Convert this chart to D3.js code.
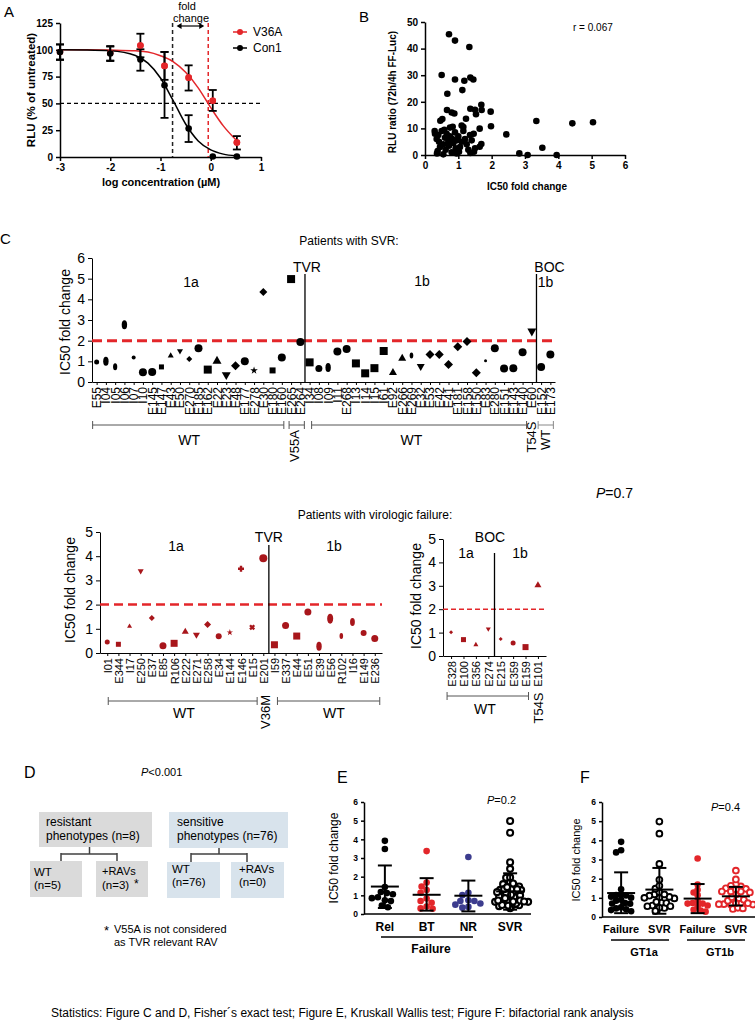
<!DOCTYPE html>
<html><head><meta charset="utf-8">
<script src="https://cdn.jsdelivr.net/npm/d3@7"></script>
<style>
body{margin:0;background:#fff;}
svg text{font-family:"Liberation Sans",Arial,Helvetica,sans-serif;}
</style></head><body>
<svg id="fig" width="755" height="1020"></svg>
<script>
// ---------------- DATA ----------------
// Panel A
const aDoseLog = [-3, -2, -1.4, -0.92, -0.44, 0.04, 0.52];
const aV36AMean = [98, 97, 104, 85, 74, 52.5, 13.5];
const aV36ALo = [91, 90, 93, 72, 62, 43, 7];
const aV36AHi = [105, 103, 115, 98, 85.5, 62.5, 19.5];
const aCon1Mean = [98, 96.5, 91, 67, 26.5, 0.5, 0.5];
const aCon1Lo = [90.5, 89.5, 80.5, 36.5, 14, 0.5, 0.5];
const aCon1Hi = [105, 103.5, 100.5, 98, 39, 0.5, 0.5];
const aCurveLog = [-3, -2.5, -2, -1.5, -1.25, -1, -0.75, -0.5, -0.25, 0, 0.25, 0.5];
const aV36ACurve = [100, 100, 99.7, 99, 98, 94.5, 89, 79, 64.5, 46, 29, 16];
const aCon1Curve = [100, 99.8, 99.1, 94.7, 87.6, 73.7, 52.8, 30.8, 15, 6.6, 2.7, 1.1];
const aIC50Con1 = -0.76, aIC50V36A = -0.05;
const aXTicks = [-3, -2, -1, 0, 1];
const aYTicks = [0, 25, 50, 75, 100, 125];

// Panel B
const bFold = [0.72,0.9,1.33,0.5,0.9,1.18,1.36,1.45,1.12,0.67,1.69,1.97,1.7,1.36,1.5,0.66,0.8,0.88,1.53,0.52,0.46,1.23,3.34,4.42,5.04,1.98,1.1,1.15,0.75,0.83,1.64,0.29,2.44,1.46,3.52,2.83,3.08,3.95,1.69,1.64,1.5,1.36,1.47,0.95,0.55,0.36,
  0.3,0.35,0.4,0.42,0.45,0.5,0.55,0.6,0.62,0.65,0.7,0.72,0.75,0.8,0.82,0.85,0.9,0.92,0.95,1.0,1.05,1.1,1.15,1.2,1.25,1.3,1.35,1.4,0.38,0.58,1.02];
const bRatio = [45.4,43,40.6,30.1,28.4,27.9,29.1,28.4,24.4,23,18.9,16.3,16.9,17.4,17,16.9,16,15.6,15.3,13.5,12.9,13.6,12.8,11.9,12.3,10.8,11.1,10.5,10.3,10.6,9.9,9,7.75,8,2.75,0.6,0,0,4.1,3.1,2.5,0.75,1.25,0.6,0.25,0.6,
  8,6,7.5,5,3,9,4,6.5,2,8,5,3.5,7,1,6,4.5,8.5,2.5,5.5,7,3,5,9,6,4,2,7.5,5.5,1.5,9.5,1.2];
const bXTicks = [0,1,2,3,4,5,6];
const bYTicks = [0,10,20,30,40,50];

// Panel C top (SVR)
const cTopLabels1a = ["E55","I04","I05","I06","I07","I10","E145","E147","E43","E50","E270","E185","E162","E22","E23","E48","E177","E278","E30","E180","E160","E265","E264"];
const cTopVals1a = [0.97,1.0,0.74,2.77,1.18,0.47,0.48,0.73,1.29,1.48,1.11,1.63,0.6,1.05,0.31,0.79,1.0,0.56,4.35,0.56,1.18,4.98,1.94];
const cTopLabels1b = ["I34","I08","I09","I11","E268","I13","I14","I15","I61","E92","E266","E269","E32","E53","E42","E41","E181","E158","E150","E83","E280","E151","E143","E140","E60"];
const cTopVals1b = [0.95,0.65,0.7,1.47,1.6,0.9,0.42,0.67,1.5,0.48,1.17,1.28,0.72,1.33,1.33,0.85,1.7,1.96,0.45,1.03,1.63,0.65,0.67,1.44,2.42];
const cTopLabelsBOC = ["E152","E173"];
const cTopValsBOC = [0.72,1.33];
const cTopYTicks = [0,1,2,3,4,5,6];
// marker shape + size (style only)
const cTopShape = ["c5","e9","e7","e9","c4","c8","c8","s5","t6","v6","d6","c8","s8","t9","v9","d9","c8","st6","d8","s6","c8","s8","c8",
  "s8","c7","e9","c8","c8","s8","s8","s8","s8","t8","t8","e6","v8","d9","d9","d9","d9","d9","d9","c3","c8","c8","c8","c8","v9",
  "c8","c8"];

// Panel C bottom (virologic failure)
const cBotLabelsTVR = ["I01","E344","I17","E250","E37","E85","R106","E222","E271","E258","E34","E144","E146","E15","E201","I59","E337","E44","E51","E39","E56","R102","I16","E149","E236"];
const cBotValsTVR = [0.45,0.36,1.12,3.37,1.45,0.3,0.4,0.9,0.73,1.18,0.69,0.85,3.48,1.06,3.92,0.34,1.14,0.7,1.69,0.28,1.42,0.7,1.28,0.83,0.6];
const cBotShapeTVR = ["c5","s5","t5","v6","d6","c7","s7","t7","v7","d7","c6","st5","p6","x6","c8","s7","c7","s7","c7","e9","e10","e6","e8","c6","c7"];
const cBotLabelsBOC = ["E328","E100","E356","E274","E215","E359","E159","E101"];
const cBotValsBOC = [1.01,0.7,0.5,1.14,0.73,0.56,0.38,3.05];
const cBotShapeBOC = ["d4","s5","t5","v5","d4","c5","s6","t7"];
const cBotYTicks = [0,1,2,3,4,5];

// Panel E
const eGroups = ["Rel","BT","NR","SVR"];
const eRel = [3.92,3.48,1.45,1.18,1.12,1.06,0.9,0.85,0.73,0.69,0.45,0.36];
const eBT = [3.37,1.69,1.47,1.28,1.14,0.83,0.7,0.6,0.4,0.3,0.28];
const eNR = [3.05,1.14,1.01,0.73,0.7,0.7,0.56,0.5,0.38,0.34];
const eMean = [1.47,1.03,0.98,1.21];
const eSDLo = [0.32,0.18,0.14,0.23];
const eSDHi = [2.6,1.92,1.79,2.18];
const eYTicks = [0,1,2,3,4,5,6];

// Panel F
const fGroups = ["Failure","SVR","Failure","SVR"];
const fGenotypes = ["GT1a","GT1b"];
const fMean = [1.25,1.43,0.96,1.08];
const fSDLo = [0.2,0.17,0.2,0.6];
const fSDHi = [2.33,2.56,1.72,1.57];

// ---------------- DRAW ----------------
const FONT = '"Liberation Sans", Arial, Helvetica, sans-serif';
const RED = '#e3262a', DRED = '#a8161b', BLUE = '#3c3c8e';
const svg = d3.select('#fig');
const fmtInt = d3.format('d');
const fmtHy = d => String(d);

function txt(g, x, y, s, o = {}) {
  const t = g.append('text').attr('x', x).attr('y', y).text(s)
    .attr('font-size', o.size || 12).attr('font-weight', o.weight || 'normal')
    .attr('text-anchor', o.anchor || 'start').attr('fill', o.fill || '#000')
    .attr('dominant-baseline', 'central');
  if (o.rotate) t.attr('transform', `rotate(${o.rotate},${x},${y})`);
  if (o.italic) t.attr('font-style', 'italic');
  return t;
}
function pval(g, x, y, rest, size, anchor) {
  const t = g.append('text').attr('x', x).attr('y', y).attr('font-size', size)
    .attr('dominant-baseline', 'central').attr('text-anchor', anchor || 'start');
  t.append('tspan').attr('font-style', 'italic').text('P');
  t.append('tspan').text(rest);
}
function styleAxis(g, size, weight, sw) {
  g.attr('font-family', FONT).attr('font-size', size);
  g.selectAll('path.domain').attr('stroke', '#000').attr('stroke-width', sw);
  g.selectAll('.tick line').attr('stroke', '#000').attr('stroke-width', sw);
  g.selectAll('.tick text').attr('font-weight', weight).attr('fill', '#000');
}
function line(g, x1, y1, x2, y2, col, w, dash) {
  const l = g.append('line').attr('x1', x1).attr('y1', y1).attr('x2', x2).attr('y2', y2)
    .attr('stroke', col).attr('stroke-width', w);
  if (dash) l.attr('stroke-dasharray', dash);
  return l;
}
function sym(g, code, x, y, fill) {
  const shape = code.replace(/[0-9.]/g, ''), size = +code.replace(/[a-z]/g, ''), r = size / 2;
  switch (shape) {
    case 'c': g.append('circle').attr('cx', x).attr('cy', y).attr('r', r).attr('fill', fill); break;
    case 's': g.append('rect').attr('x', x - r).attr('y', y - r).attr('width', size).attr('height', size).attr('fill', fill); break;
    case 't': g.append('path').attr('d', `M${x},${y - r}L${x + r},${y + r * 0.75}L${x - r},${y + r * 0.75}Z`).attr('fill', fill); break;
    case 'v': g.append('path').attr('d', `M${x},${y + r}L${x + r},${y - r * 0.75}L${x - r},${y - r * 0.75}Z`).attr('fill', fill); break;
    case 'd': g.append('path').attr('d', `M${x},${y - r}L${x + r},${y}L${x},${y + r}L${x - r},${y}Z`).attr('fill', fill); break;
    case 'p': g.append('path').attr('d', `M${x - r},${y - 1.2}h${size}v2.4h${-size}Z M${x - 1.2},${y - r}h2.4v${size}h-2.4Z`).attr('fill', fill); break;
    case 'x': g.append('path').attr('d', `M${x - r},${y - 1.2}h${size}v2.4h${-size}Z M${x - 1.2},${y - r}h2.4v${size}h-2.4Z`).attr('fill', fill).attr('transform', `rotate(45,${x},${y})`); break;
    case 'st': g.append('path').attr('d', d3.symbol(d3.symbolStar, size * size * 0.5)()).attr('transform', `translate(${x},${y})`).attr('fill', fill); break;
    case 'e': g.append('ellipse').attr('cx', x).attr('cy', y).attr('rx', r * 0.6).attr('ry', r).attr('fill', fill); break;
  }
}
function bracket(g, x1, x2, y, col) {
  line(g, x1, y, x2, y, col, 1);
  line(g, x1, y - 4, x1, y + 4, col, 1);
  line(g, x2, y - 4, x2, y + 4, col, 1);
}

// ===== Panel A =====
{
  const g = svg.append('g');
  const x = d3.scaleLinear().domain([-3, 1]).range([60, 261]);
  const y = d3.scaleLinear().domain([0, 125]).range([157, 23]);
  txt(g, 4, 11, 'A', { size: 15 });
  g.append('g').attr('transform', 'translate(0,157)')
    .call(d3.axisBottom(x).tickValues(aXTicks).tickSize(4).tickSizeOuter(0).tickFormat(fmtHy))
    .call(styleAxis, 10, 'bold', 1.5);
  g.append('g').attr('transform', 'translate(60,0)')
    .call(d3.axisLeft(y).tickValues(aYTicks).tickSize(4).tickSizeOuter(0).tickFormat(fmtInt))
    .call(styleAxis, 10, 'bold', 1.5);
  txt(g, 161, 182, 'log concentration (\u00b5M)', { size: 11, weight: 'bold', anchor: 'middle' });
  txt(g, 31, 90, 'RLU (% of untreated)', { size: 11.5, weight: 'bold', anchor: 'middle', rotate: -90 });
  line(g, 60, y(50), 261, y(50), '#000', 1.3, '4,3');
  line(g, x(aIC50Con1), y(125), x(aIC50Con1), y(0), '#222', 1.5, '4,3');
  line(g, x(aIC50V36A), y(125), x(aIC50V36A), y(0), RED, 1.5, '4,3');
  const ya = 26, x1 = x(aIC50Con1) + 4, x2 = x(aIC50V36A) - 4;
  line(g, x1 + 2, ya, x2 - 2, ya, '#000', 1.2);
  g.append('path').attr('d', `M${x1},${ya}l5,-3v6Z M${x2},${ya}l-5,-3v6Z`).attr('fill', '#000');
  txt(g, 187, 6, 'fold', { size: 11, anchor: 'middle' });
  txt(g, 191, 18, 'change', { size: 11, anchor: 'middle' });
  const ln = d3.line().x(d => x(d[0])).y(d => y(d[1])).curve(d3.curveMonotoneX);
  g.append('path').attr('d', ln(aCurveLog.map((v, i) => [v, aV36ACurve[i]]))).attr('fill', 'none').attr('stroke', RED).attr('stroke-width', 1.5);
  g.append('path').attr('d', ln(aCurveLog.map((v, i) => [v, aCon1Curve[i]]))).attr('fill', 'none').attr('stroke', '#000').attr('stroke-width', 1.5);
  function series(mean, lo, hi, col) {
    aDoseLog.forEach((d, i) => {
      if (hi[i] - lo[i] > 0.5) {
        line(g, x(d), y(lo[i]), x(d), y(hi[i]), '#000', 1.8);
        line(g, x(d) - 4, y(lo[i]), x(d) + 4, y(lo[i]), '#000', 1.8);
        line(g, x(d) - 4, y(hi[i]), x(d) + 4, y(hi[i]), '#000', 1.8);
      }
      g.append('circle').attr('cx', x(d)).attr('cy', y(mean[i])).attr('r', 3.3).attr('fill', col);
    });
  }
  series(aV36AMean, aV36ALo, aV36AHi, RED);
  series(aCon1Mean, aCon1Lo, aCon1Hi, '#000');
  [2, 3, 4, 5, 6].forEach(i => g.append('circle').attr('cx', x(aDoseLog[i])).attr('cy', y(aV36AMean[i])).attr('r', 3.3).attr('fill', RED));
  line(g, 233, 32, 247, 32, RED, 1.5); g.append('circle').attr('cx', 240).attr('cy', 32).attr('r', 3).attr('fill', RED);
  line(g, 233, 48, 247, 48, '#000', 1.5); g.append('circle').attr('cx', 240).attr('cy', 48).attr('r', 3).attr('fill', '#000');
  txt(g, 253, 32, 'V36A', { size: 12 });
  txt(g, 253, 48, 'Con1', { size: 12 });
}

// ===== Panel B =====
{
  const g = svg.append('g');
  const x = d3.scaleLinear().domain([0, 6]).range([425, 625]);
  const y = d3.scaleLinear().domain([0, 50]).range([155, 22]);
  txt(g, 359, 16, 'B', { size: 15 });
  g.append('g').attr('transform', 'translate(0,155)')
    .call(d3.axisBottom(x).tickValues(bXTicks).tickSize(4).tickSizeOuter(0).tickFormat(fmtInt))
    .call(styleAxis, 10, 'bold', 1.5);
  g.append('g').attr('transform', 'translate(425,0)')
    .call(d3.axisLeft(y).tickValues(bYTicks).tickSize(4).tickSizeOuter(0).tickFormat(fmtInt))
    .call(styleAxis, 10, 'bold', 1.5);
  txt(g, 527, 186, 'IC50 fold change', { size: 10, weight: 'bold', anchor: 'middle' });
  txt(g, 392, 92, 'RLU ratio (72h/4h FF-Luc)', { size: 10, weight: 'bold', anchor: 'middle', rotate: -90 });
  txt(g, 573, 27, 'r = 0.067', { size: 10 });
  bFold.forEach((f, i) => g.append('circle').attr('cx', x(f)).attr('cy', y(bRatio[i])).attr('r', 3.3).attr('fill', '#000'));
}

// ===== Panel C top =====
{
  const g = svg.append('g');
  const cats = cTopLabels1a.concat(cTopLabels1b, cTopLabelsBOC);
  const vals = cTopVals1a.concat(cTopVals1b, cTopValsBOC);
  const x = d3.scalePoint().domain(d3.range(cats.length)).range([92, 555]).padding(0.5);
  const y = d3.scaleLinear().domain([0, 6]).range([382, 258]);
  txt(g, 0, 238, 'C', { size: 15 });
  txt(g, 349, 241, 'Patients with SVR:', { size: 12, anchor: 'middle' });
  g.append('g').attr('transform', 'translate(92,0)')
    .call(d3.axisLeft(y).tickValues(cTopYTicks).tickSize(4).tickSizeOuter(0).tickFormat(fmtInt))
    .call(styleAxis, 14, 'normal', 1);
  g.append('g').attr('transform', 'translate(0,382)')
    .call(d3.axisBottom(x).tickSize(3).tickSizeOuter(0).tickFormat(''))
    .call(styleAxis, 12, 'normal', 1);
  txt(g, 65, 322, 'IC50 fold change', { size: 14, anchor: 'middle', rotate: -90 });
  cats.forEach((c, i) => txt(g, x(i) + 0.5, 387, c, { size: 12, anchor: 'end', rotate: -90 }));
  line(g, 92, y(2), 555, y(2), RED, 3, '10,5');
  const n1 = cTopLabels1a.length, n2 = n1 + cTopLabels1b.length;
  const xT = (x(n1 - 1) + x(n1)) / 2, xB = (x(n2 - 1) + x(n2)) / 2;
  line(g, xT, 274, xT, 382, '#000', 1.3);
  line(g, xB, 274, xB, 382, '#000', 1.3);
  txt(g, xT + 2, 267, 'TVR', { size: 14, anchor: 'middle' });
  txt(g, xB + 13, 267, 'BOC', { size: 14, anchor: 'middle' });
  txt(g, 191, 282, '1a', { size: 14, anchor: 'middle' });
  txt(g, 422, 281, '1b', { size: 14, anchor: 'middle' });
  txt(g, xB + 9, 282, '1b', { size: 14, anchor: 'middle' });
  vals.forEach((v, i) => sym(g, cTopShape[i], x(i), y(v), '#000'));
  const bc = '#555';
  bracket(g, x(0) - 4, x(20) + 2, 425, bc);
  bracket(g, x(21) - 2, x(22) + 4, 425, bc);
  bracket(g, x(23) + 2, x(46) + 4, 425, bc);
  bracket(g, x(48) - 3, x(49) + 3, 425, '#888');
  txt(g, x(10), 440, 'WT', { size: 14, anchor: 'middle' });
  txt(g, x(34), 440, 'WT', { size: 14, anchor: 'middle' });
  txt(g, (x(21) + x(22)) / 2 - 1, 446, 'V55A', { size: 13, anchor: 'middle', rotate: -90 });
  txt(g, x(47), 437, 'T54S', { size: 13, anchor: 'middle', rotate: -90 });
  txt(g, (x(48) + x(49)) / 2, 440, 'WT', { size: 13, anchor: 'middle', rotate: -90 });
}

// ===== Panel C bottom =====
{
  const g = svg.append('g');
  txt(g, 375, 515, 'Patients with virologic failure:', { size: 12, anchor: 'middle' });
  pval(g, 596, 493, '=0.7', 14);
  const x = d3.scalePoint().domain(d3.range(cBotLabelsTVR.length)).range([100, 382]).padding(0.65);
  const y = d3.scaleLinear().domain([0, 5]).range([653, 532]);
  g.append('g').attr('transform', 'translate(100,0)')
    .call(d3.axisLeft(y).tickValues(cBotYTicks).tickSize(4).tickSizeOuter(0).tickFormat(fmtInt))
    .call(styleAxis, 14, 'normal', 1);
  g.append('g').attr('transform', 'translate(0,653)')
    .call(d3.axisBottom(x).tickSize(3).tickSizeOuter(0).tickFormat(''))
    .call(styleAxis, 12, 'normal', 1);
  txt(g, 70, 590, 'IC50 fold change', { size: 14, anchor: 'middle', rotate: -90 });
  cBotLabelsTVR.forEach((c, i) => txt(g, x(i) + 0.5, 658, c, { size: 11, anchor: 'end', rotate: -90 }));
  line(g, 100, y(2), 382, y(2), RED, 2.5, '9,5');
  const xT = (x(14) + x(15)) / 2;
  line(g, xT, 545, xT, 653, '#000', 1.3);
  txt(g, xT, 537, 'TVR', { size: 14, anchor: 'middle' });
  txt(g, 176, 546, '1a', { size: 14, anchor: 'middle' });
  txt(g, 334, 546, '1b', { size: 14, anchor: 'middle' });
  cBotValsTVR.forEach((v, i) => sym(g, cBotShapeTVR[i], x(i), y(v), DRED));
  bracket(g, x(0) + 1, x(13) + 5, 701, '#555');
  bracket(g, x(15) + 3, x(24) + 5, 701, '#555');
  txt(g, 184, 713, 'WT', { size: 14, anchor: 'middle' });
  txt(g, 334, 713, 'WT', { size: 14, anchor: 'middle' });
  txt(g, x(14) + 2, 712, 'V36M', { size: 13, anchor: 'middle', rotate: -90 });

  const x2 = d3.scalePoint().domain(d3.range(cBotLabelsBOC.length)).range([443, 546]).padding(0.65);
  const y2 = d3.scaleLinear().domain([0, 5]).range([656, 539]);
  g.append('g').attr('transform', 'translate(443,0)')
    .call(d3.axisLeft(y2).tickValues(cBotYTicks).tickSize(4).tickSizeOuter(0).tickFormat(fmtInt))
    .call(styleAxis, 14, 'normal', 1);
  g.append('g').attr('transform', 'translate(0,656)')
    .call(d3.axisBottom(x2).tickSize(3).tickSizeOuter(0).tickFormat(''))
    .call(styleAxis, 12, 'normal', 1);
  txt(g, 416, 596, 'IC50 fold change', { size: 14, anchor: 'middle', rotate: -90 });
  cBotLabelsBOC.forEach((c, i) => txt(g, x2(i) + 0.5, 661, c, { size: 11, anchor: 'end', rotate: -90 }));
  line(g, 443, y2(2), 546, y2(2), RED, 1.5, '5,3');
  const xB = (x2(3) + x2(4)) / 2;
  line(g, xB, 553, xB, 656, '#000', 1.3);
  txt(g, 490, 537, 'BOC', { size: 14, anchor: 'middle' });
  txt(g, 466, 553, '1a', { size: 14, anchor: 'middle' });
  txt(g, 520, 553, '1b', { size: 14, anchor: 'middle' });
  cBotValsBOC.forEach((v, i) => sym(g, cBotShapeBOC[i], x2(i), y2(v), DRED));
  bracket(g, x2(0) - 4, x2(6) + 3, 696, '#555');
  txt(g, 485, 709, 'WT', { size: 14, anchor: 'middle' });
  txt(g, x2(7) + 1, 708, 'T54S', { size: 13, anchor: 'middle', rotate: -90 });
}

// ===== Panel D =====
{
  const g = svg.append('g');
  const GREY = '#dadada', LBLUE = '#d8e3ec', LC = '#404040';
  txt(g, 24, 772, 'D', { size: 16 });
  pval(g, 141, 772, '<0.001', 11);
  g.append('rect').attr('x', 39).attr('y', 812).attr('width', 113).attr('height', 35).attr('fill', GREY);
  txt(g, 46, 822, 'resistant', { size: 12 });
  txt(g, 46, 836, 'phenotypes (n=8)', { size: 12 });
  g.append('rect').attr('x', 169).attr('y', 812).attr('width', 119).attr('height', 36).attr('fill', LBLUE);
  txt(g, 177, 822, 'sensitive', { size: 12 });
  txt(g, 177, 836, 'phenotypes (n=76)', { size: 12 });
  line(g, 89.5, 847, 89.5, 854, LC, 1.5);
  line(g, 61, 854, 117, 854, LC, 1.5);
  line(g, 61, 853, 61, 861, LC, 1.5); line(g, 117, 853, 117, 861, LC, 1.5);
  line(g, 219, 848, 219, 854, LC, 1.5);
  line(g, 191, 854, 247, 854, LC, 1.5);
  line(g, 191, 853, 191, 862, LC, 1.5); line(g, 247, 853, 247, 862, LC, 1.5);
  g.append('rect').attr('x', 30).attr('y', 861).attr('width', 52).attr('height', 36).attr('fill', GREY);
  g.append('rect').attr('x', 96).attr('y', 861).attr('width', 52).attr('height', 36).attr('fill', GREY);
  g.append('rect').attr('x', 167).attr('y', 862).attr('width', 53).attr('height', 36).attr('fill', LBLUE);
  g.append('rect').attr('x', 231).attr('y', 862).attr('width', 53).attr('height', 36).attr('fill', LBLUE);
  txt(g, 34, 872, 'WT', { size: 11.5 }); txt(g, 34, 885, '(n=5)', { size: 11.5 });
  txt(g, 102, 871, '+RAVs', { size: 11 }); txt(g, 102, 885, '(n=3)', { size: 11.5 });
  txt(g, 134, 884, '*', { size: 12 });
  txt(g, 172, 869, 'WT', { size: 11.5 }); txt(g, 172, 882, '(n=76)', { size: 11.5 });
  txt(g, 239, 869, '+RAVs', { size: 11.5 }); txt(g, 239, 882, '(n=0)', { size: 11.5 });
  txt(g, 104, 930, '*', { size: 13 });
  txt(g, 114, 929, 'V55A is not considered', { size: 11 });
  txt(g, 114, 942, 'as TVR relevant RAV', { size: 11 });
}

// deterministic swarm layout
function swarm(vals, yScale, cx, r) {
  const placed = [];
  const order = vals.map((v, i) => i).sort((a, b) => vals[b] - vals[a]);
  const out = new Array(vals.length);
  order.forEach(i => {
    const py = yScale(vals[i]);
    let k = 0, px = cx;
    while (k < 200) {
      const off = (k % 2 === 0 ? 1 : -1) * Math.ceil(k / 2);
      px = cx + off;
      if (placed.every(p => (p[0] - px) ** 2 + (p[1] - py) ** 2 >= (2 * r) ** 2)) break;
      k++;
    }
    placed.push([px, py]); out[i] = [px, py];
  });
  return out;
}
function meanSD(g, cx, mean, lo, hi, y) {
  line(g, cx - 14, y(mean), cx + 14, y(mean), '#000', 2);
  line(g, cx, y(lo), cx, y(hi), '#000', 2);
  line(g, cx - 7, y(lo), cx + 7, y(lo), '#000', 2);
  line(g, cx - 7, y(hi), cx + 7, y(hi), '#000', 2);
}

// ===== Panel E =====
{
  const g = svg.append('g');
  const x = d3.scalePoint().domain(eGroups).range([364, 531]).padding(0.5);
  const y = d3.scaleLinear().domain([0, 6]).range([914, 802]);
  txt(g, 337, 777, 'E', { size: 16 });
  g.append('g').attr('transform', 'translate(364,0)')
    .call(d3.axisLeft(y).tickValues(eYTicks).tickSize(3).tickSizeOuter(0).tickFormat(fmtInt))
    .call(styleAxis, 8.5, 'bold', 1.5);
  line(g, 364, 914, 531, 914, '#000', 1.5);
  eGroups.forEach(c => txt(g, x(c), 927, c, { size: 12, weight: 'bold', anchor: 'middle' }));
  line(g, 381, 937, 473, 937, '#000', 1.5);
  txt(g, 431, 949, 'Failure', { size: 12, weight: 'bold', anchor: 'middle' });
  txt(g, 334, 858, 'IC50 fold change', { size: 12, anchor: 'middle', rotate: -90 });
  pval(g, 487, 800, '=0.2', 11);
  const groups = [eRel, eBT, eNR, cTopVals1a.concat(cTopVals1b, cTopValsBOC)];
  const cols = ['#000', RED, BLUE, 'open'];
  const coll = [3, 3, 3, 1.6];
  groups.forEach((vals, gi) => {
    swarm(vals, y, x(eGroups[gi]), coll[gi]).forEach(p => {
      if (cols[gi] === 'open') g.append('circle').attr('cx', p[0]).attr('cy', p[1]).attr('r', 3).attr('fill', '#fff').attr('stroke', '#000').attr('stroke-width', 2.1);
      else g.append('circle').attr('cx', p[0]).attr('cy', p[1]).attr('r', 3.3).attr('fill', cols[gi]);
    });
    meanSD(g, x(eGroups[gi]), eMean[gi], eSDLo[gi], eSDHi[gi], y);
  });
}

// ===== Panel F =====
{
  const g = svg.append('g');
  const x = d3.scalePoint().domain(d3.range(4)).range([602, 755]).padding(0.5);
  const y = d3.scaleLinear().domain([0, 6]).range([917, 802]);
  txt(g, 580, 777, 'F', { size: 16 });
  g.append('g').attr('transform', 'translate(602,0)')
    .call(d3.axisLeft(y).tickValues(eYTicks).tickSize(3).tickSizeOuter(0).tickFormat(fmtInt))
    .call(styleAxis, 8.5, 'bold', 1.5);
  line(g, 602, 917, 755, 917, '#000', 1.5);
  fGroups.forEach((c, i) => txt(g, x(i), 929, c, { size: 11, weight: 'bold', anchor: 'middle' }));
  line(g, 611, 940, 669, 940, '#000', 1.5);
  line(g, 687, 940, 745, 940, '#000', 1.5);
  txt(g, 644, 952, fGenotypes[0], { size: 11, weight: 'bold', anchor: 'middle' });
  txt(g, 720, 952, fGenotypes[1], { size: 11, weight: 'bold', anchor: 'middle' });
  txt(g, 576, 860, 'IC50 fold change', { size: 11, anchor: 'middle', rotate: -90 });
  pval(g, 711, 807, '=0.4', 11);
  const gt1aFail = cBotValsTVR.slice(0, 15).concat(cBotValsBOC.slice(0, 4));
  const gt1bFail = cBotValsTVR.slice(15).concat(cBotValsBOC.slice(4));
  const groups = [gt1aFail, cTopVals1a, gt1bFail, cTopVals1b.concat(cTopValsBOC)];
  const cols = [['#000', true], ['#000', false], [RED, true], [RED, false]];
  groups.forEach((vals, gi) => {
    swarm(vals, y, x(gi), 2.4).forEach(p => {
      const [c, filled] = cols[gi];
      if (filled) g.append('circle').attr('cx', p[0]).attr('cy', p[1]).attr('r', 3.3).attr('fill', c);
      else g.append('circle').attr('cx', p[0]).attr('cy', p[1]).attr('r', 2.9).attr('fill', '#fff').attr('stroke', c).attr('stroke-width', 1.9);
    });
    meanSD(g, x(gi), fMean[gi], fSDLo[gi], fSDHi[gi], y);
  });
}

// ===== Footer =====
txt(svg, 51, 1013, 'Statistics: Figure C and D, Fisher\u00b4s exact test; Figure E, Kruskall Wallis test; Figure F: bifactorial rank analysis', { size: 12 });
</script></body></html>
